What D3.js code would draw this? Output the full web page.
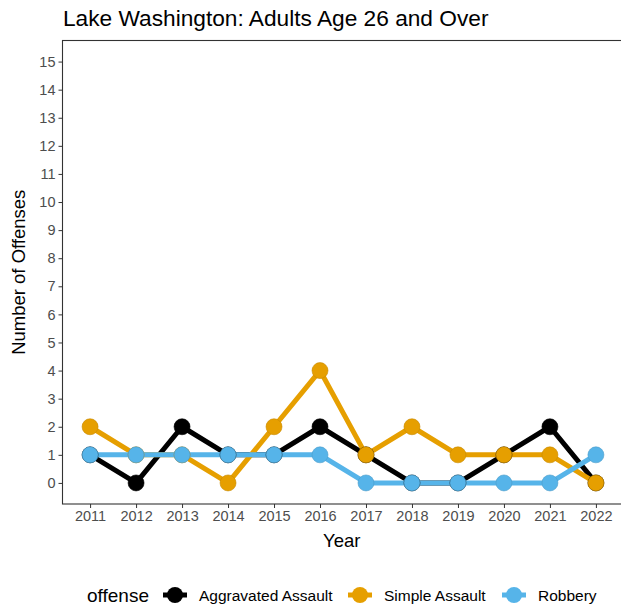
<!DOCTYPE html>
<html lang="en">
<head>
<meta charset="utf-8">
<style>
  body { margin: 0; background: #fff; }
  svg text { font-family: "Liberation Sans", Arial, sans-serif; }
  .tick line { stroke: #333; }
</style>
<script src="https://cdn.jsdelivr.net/npm/d3@7"></script>
</head>
<body>
<svg width="621" height="608"></svg>
<script>
var years = [2011, 2012, 2013, 2014, 2015, 2016, 2017, 2018, 2019, 2020, 2021, 2022];
var offenses = ["Aggravated Assault", "Simple Assault", "Robbery"];
var aggravated = [1, 0, 2, 1, 1, 2, 1, 0, 0, 1, 2, 0];
var simple = [2, 1, 1, 0, 2, 4, 1, 2, 1, 1, 1, 0];
var robbery = [1, 1, 1, 1, 1, 1, 0, 0, 0, 0, 0, 1];
var colors = ["#000000", "#E69F00", "#56B4E9"];
var yTicks = d3.range(0, 16);

var series = [aggravated, simple, robbery].map(function(vals, i) {
  return { name: offenses[i], color: colors[i],
           values: vals.map(function(v, j) { return { year: years[j], value: v }; }) };
});

var svg = d3.select("svg");
var pLeft = 62.5, pTop = 40.5, pBottom = 504, pRight = 623.5;

var x = d3.scaleLinear().domain([2010.4, 2022.6]).range([pLeft, pRight]);
var y = d3.scaleLinear().domain([-0.75, 15.75]).range([pBottom, pTop]);

// panel border
svg.append("rect")
    .attr("x", pLeft).attr("y", pTop)
    .attr("width", pRight - pLeft).attr("height", pBottom - pTop)
    .attr("fill", "none").attr("stroke", "#333").attr("stroke-width", 1.1);

function styleAxis(g) {
  g.select(".domain").remove();
  g.attr("font-family", null).attr("font-size", null);
  g.selectAll(".tick text").attr("fill", "#4d4d4d").attr("font-size", 14.5);
}

svg.append("g")
    .attr("transform", "translate(0," + pBottom + ")")
    .call(d3.axisBottom(x).tickValues(years).tickFormat(d3.format("d")).tickSize(4).tickPadding(3))
    .call(styleAxis);

svg.append("g")
    .attr("transform", "translate(" + pLeft + ",0)")
    .call(d3.axisLeft(y).tickValues(yTicks).tickSize(4).tickPadding(3))
    .call(styleAxis);

var line = d3.line()
    .x(function(d) { return x(d.year); })
    .y(function(d) { return y(d.value); });

svg.append("g").selectAll("path")
  .data(series)
  .enter().append("path")
    .attr("d", function(d) { return line(d.values); })
    .attr("fill", "none")
    .attr("stroke", function(d) { return d.color; })
    .attr("stroke-width", 5)
    .attr("stroke-linejoin", "round");

series.forEach(function(s) {
  svg.append("g").selectAll("circle")
    .data(s.values)
    .enter().append("circle")
      .attr("cx", function(d) { return x(d.year); })
      .attr("cy", function(d) { return y(d.value); })
      .attr("r", 8)
      .attr("fill", s.color)
      .attr("stroke", d3.color(s.color).darker(0.4))
      .attr("stroke-width", 0.6);
});

// titles
svg.append("text")
    .attr("x", 63).attr("y", 26)
    .attr("font-size", 22.7)
    .text("Lake Washington: Adults Age 26 and Over");

svg.append("text")
    .attr("x", (pLeft + 621) / 2).attr("y", 547)
    .attr("text-anchor", "middle")
    .attr("font-size", 18.5)
    .text("Year");

svg.append("text")
    .attr("transform", "translate(25," + ((pTop + pBottom) / 2) + ") rotate(-90)")
    .attr("text-anchor", "middle")
    .attr("font-size", 18.5)
    .text("Number of Offenses");

// legend
var legend = svg.append("g").attr("transform", "translate(0,595)");
legend.append("text")
    .attr("x", 87).attr("y", 7)
    .attr("font-size", 19)
    .text("offense");

var keyX = [163, 348, 502];
series.forEach(function(s, i) {
  var g = legend.append("g").attr("transform", "translate(" + keyX[i] + ",0)");
  g.append("line")
      .attr("x1", 0).attr("x2", 24)
      .attr("stroke", s.color).attr("stroke-width", 5);
  g.append("circle")
      .attr("cx", 12).attr("r", 8)
      .attr("fill", s.color);
  g.append("text")
      .attr("x", 36).attr("y", 5.5)
      .attr("font-size", 15.5)
      .text(s.name);
});
</script>
</body>
</html>
